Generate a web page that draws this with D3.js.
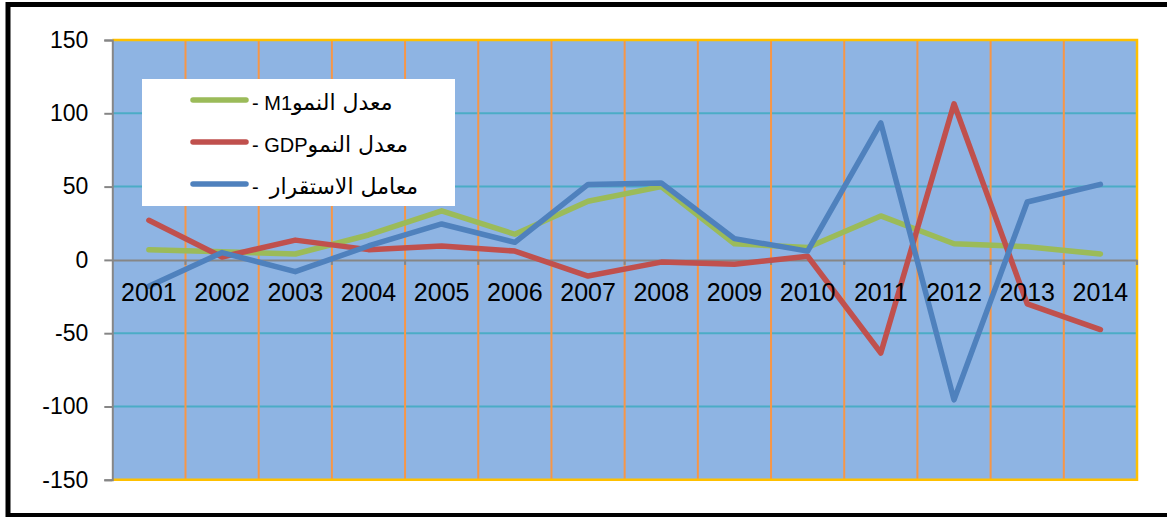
<!DOCTYPE html>
<html><head><meta charset="utf-8">
<script src="https://cdn.jsdelivr.net/npm/d3@7"></script>
<style>html,body{margin:0;padding:0;background:#fff;}svg{display:block;}</style>
</head><body>
<svg id="chart" width="1167" height="517"></svg>
<script>
const years = ["2001","2002","2003","2004","2005","2006","2007","2008","2009","2010","2011","2012","2013","2014"];
const m1Growth = [7, 5.5, 4, 17, 33.5, 17.5, 40, 50, 11, 8.5, 30, 11, 9, 4];
const gdpGrowth = [27, 2, 13.5, 7, 9.5, 6, -11, -1.5, -3, 2.5, -63.5, 106.5, -30, -47.5];
const stability = [-18, 5, -8, 9.5, 24.5, 12, 51.5, 52.5, 14.5, 6, 93.5, -95.5, 39.5, 51.5];
const yTicks = [150, 100, 50, 0, -50, -100, -150];
const seriesLatin = ["- M1", "- GDP", "-  "];
const seriesArabic = ["معدل النمو", "معدل النمو", "معامل الاستقرار"];
const seriesColors = ["#9BBB59", "#C0504D", "#4F81BD"];

const svg = d3.select("#chart");
const L = 112.3, R = 1137, T = 40, B = 479.8;
const x = d3.scaleBand().domain(years).range([L, R]).padding(0);
const y = d3.scaleLinear().domain([-150, 150]).range([B, T]);
const font = "'Liberation Sans', Arial, sans-serif";

// outer frame
svg.append("rect").attr("x", 8).attr("y", 4.5).attr("width", 1170).attr("height", 511)
  .attr("fill", "#fff").attr("stroke", "#000").attr("stroke-width", 5);

// plot background
svg.append("rect").attr("x", L).attr("y", T).attr("width", R - L).attr("height", B - T)
  .attr("fill", "#8EB4E3");

// horizontal gridlines
svg.append("g").selectAll("line").data(yTicks.filter(d => d !== 0 && Math.abs(d) !== 150)).join("line")
  .attr("x1", L).attr("x2", R).attr("y1", d => y(d)).attr("y2", d => y(d))
  .attr("stroke", "#4BACC6").attr("stroke-width", 2);

// vertical gridlines
svg.append("g").selectAll("line").data(years.slice(1)).join("line")
  .attr("x1", d => x(d)).attr("x2", d => x(d)).attr("y1", T).attr("y2", B)
  .attr("stroke", "#F79646").attr("stroke-width", 2);

// plot border (top, right, bottom)
svg.append("path")
  .attr("d", `M${L},${T}H${R}V${B}H${L}`)
  .attr("fill", "none").attr("stroke", "#FFC000").attr("stroke-width", 2.5);

// y axis
const yAxis = d3.axisLeft(y).tickValues(yTicks).tickSize(8).tickPadding(16).tickFormat(d3.format("d"));
const gy = svg.append("g").attr("transform", `translate(${L},0)`).call(yAxis);
gy.select(".domain").attr("stroke", "#868686").attr("stroke-width", 2);
gy.selectAll(".tick line").attr("stroke", "#868686").attr("stroke-width", 2);
gy.selectAll(".tick text").attr("font-family", font)
  .attr("font-size", 23).attr("fill", "#000").text(d => d < 0 ? "-" + Math.abs(d) : d);

// x axis line at zero
const xAxis = d3.axisBottom(x).tickSize(0).tickSizeOuter(0).tickPadding(23);
const gx = svg.append("g").attr("transform", `translate(0,${y(0)})`).call(xAxis);
gx.select(".domain").attr("stroke", "#868686").attr("stroke-width", 2);
gx.selectAll(".tick text").remove();
gx.append("g").selectAll("line").data(years.slice(1).concat(["end"])).join("line")
  .attr("x1", d => d === "end" ? R : x(d)).attr("x2", d => d === "end" ? R : x(d))
  .attr("y1", 0).attr("y2", 5).attr("stroke", "#868686").attr("stroke-width", 2);

// lines
const line = d3.line().x((d, i) => x(years[i]) + x.bandwidth() / 2).y(d => y(d));
[m1Growth, gdpGrowth, stability].forEach((s, k) => {
  svg.append("path").datum(s).attr("d", line).attr("fill", "none")
    .attr("stroke", seriesColors[k]).attr("stroke-width", 5.5)
    .attr("stroke-linejoin", "round").attr("stroke-linecap", "round");
});

// x tick labels above lines
const gx2 = svg.append("g").attr("transform", `translate(0,${y(0)})`)
  .call(d3.axisBottom(x).tickSize(0).tickSizeOuter(0).tickPadding(23));
gx2.select(".domain").remove();
gx2.selectAll(".tick text").attr("font-family", font).attr("font-size", 25).attr("fill", "#000");

// legend
const lg = svg.append("g");
lg.append("rect").attr("x", 142).attr("y", 79).attr("width", 313).attr("height", 127).attr("fill", "#fff");
const legendY = d3.scalePoint().domain(d3.range(seriesLatin.length)).range([100, 184]);
seriesLatin.forEach((n, k) => {
  lg.append("line").attr("x1", 193).attr("x2", 246).attr("y1", legendY(k)).attr("y2", legendY(k))
    .attr("stroke", seriesColors[k]).attr("stroke-width", 5.5).attr("stroke-linecap", "round");
  const t = lg.append("text").attr("x", 252).attr("y", legendY(k) + 10)
    .attr("font-family", font + ", 'DejaVu Sans'").attr("fill", "#000").attr("xml:space", "preserve")
    .style("white-space", "pre");
  t.append("tspan").attr("font-size", 20).text(n);
  t.append("tspan").attr("font-size", 22).attr("font-family", "'DejaVu Sans', sans-serif").text(seriesArabic[k]);
});
</script>
</body></html>
